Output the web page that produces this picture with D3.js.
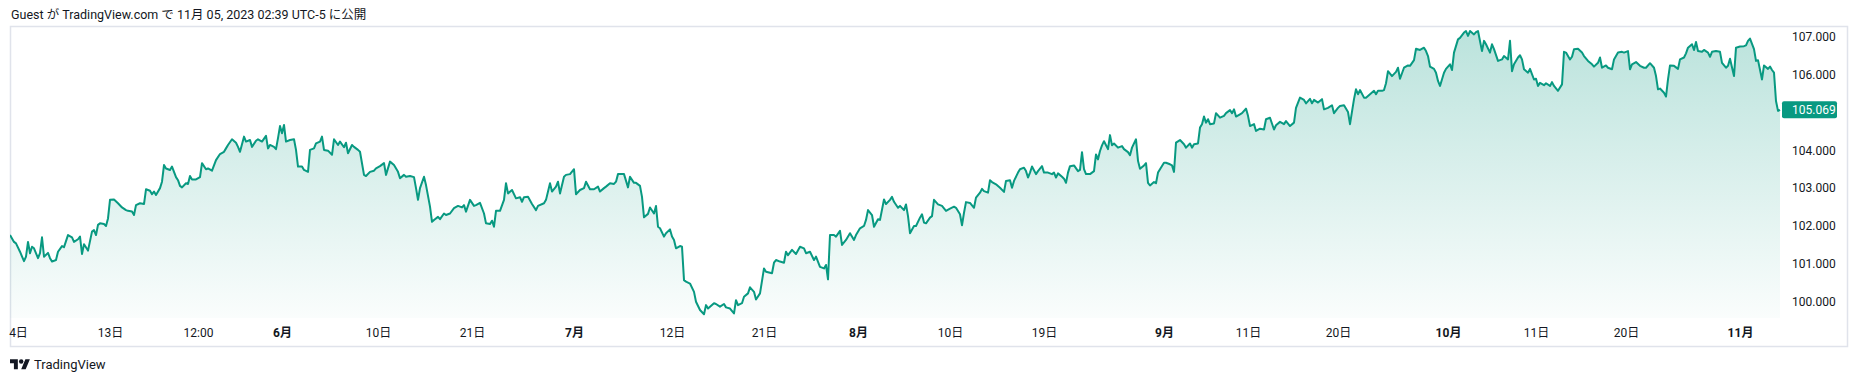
<!DOCTYPE html>
<html>
<head>
<meta charset="utf-8">
<script src="https://cdn.jsdelivr.net/npm/d3@7"></script>
<style>
  html, body { margin: 0; padding: 0; background: #ffffff; }
  svg { display: block; }
  text { font-family: Roboto, "Noto Sans CJK JP", "Noto Sans", sans-serif; }
</style>
</head>
<body>
<svg id="chart" width="1858" height="382"></svg>
<script>
// ---- data (bar index on the time scale, close value) ----
const bars = [0,2,3,5,7,8,9,10,11,12,14,15,16,17,19,20,21,23,24,26,27,29,31,32,34,35,36,37,39,41,42,43,44,45,47,48,49,50,52,54,56,58,59,61,62,63,65,67,68,70,71,72,73,75,76,77,78,80,81,82,83,84,85,86,88,89,90,91,93,95,96,98,99,101,103,105,107,108,109,111,113,114,115,117,118,120,121,123,124,126,128,129,130,132,133,134,135,136,137,138,140,142,143,144,146,147,149,150,152,153,155,156,157,159,161,162,164,165,167,168,169,171,172,174,175,177,178,180,182,183,185,187,188,190,192,194,195,197,198,200,202,203,204,205,207,208,210,211,212,214,215,217,218,220,222,
224,226,227,228,230,232,233,235,237,238,240,241,242,243,245,247,248,249,251,253,255,256,257,259,261,263,264,267,268,270,271,273,274,275,277,278,280,282,283,285,287,288,290,292,294,295,297,298,300,302,303,304,307,309,310,312,313,315,316,317,319,320,322,323,324,325,327,328,330,331,332,333,335,336,337,338,340,342,343,345,347,348,349,352,353,355,357,358,360,362,363,364,366,367,369,370,372,373,375,377,378,381,382,383,385,387,388,389,391,393,395,397,398,400,402,403,405,407,408,409,410,412,413,415,416,418,420,422,423,425,427,428,429,431,432,434,435,437,438,440,441,442,
444,445,447,448,449,450,452,453,455,456,457,458,460,461,462,464,466,468,470,472,473,475,476,477,478,480,482,483,485,486,487,489,490,491,493,495,497,498,500,501,502,504,505,507,508,509,510,511,513,514,516,517,519,521,522,523,524,526,527,528,529,530,532,534,535,536,537,538,540,542,543,544,545,546,547,549,550,551,552,554,556,557,559,560,561,563,564,565,567,568,569,570,572,573,574,575,577,578,580,581,582,583,585,587,588,590,591,592,594,595,596,597,598,599,600,602,603,605,607,608,610,611,612,613,615,616,618,619,620,622,623,625,627,628,630,632,633,635,637,638,640,642,643,645,647,648,650,651,652,654,656,657,659,661,662,
664,665,667,669,670,672,673,674,675,677,678,680,682,683,684,686,687,688,689,691,693,694,695,697,699,700,702,703,705,707,708,709,710,712,713,714,715,717,718,720,721,722,724,725,727,728,729,730,732,733,734,736,737,738,740,741,742,744,746,747,749,750,751,752,754,755,756,757,759,760,762,763,764,765,767,768,770,771,772,774,776,777,778,780,781,782,784,786,787,789,791,792,794,795,796,798,799,801,802,804,806,807,809,810,811,813,815,817,818,820,822,823,824,825,827,828,829,830,832,834,835,837,838,839,841,842,843,844,846,847,849,850,851,853,855,856,858,859,860,862,863,865,867,868,869,870,872,873,874,876,877,879,880,881,882,883,884,885];

const closes = [101.76,101.58,101.54,101.32,101.07,101.19,101.58,101.28,101.45,101.41,101.15,101.28,101.70,101.19,101.29,101.15,101.06,101.10,101.32,101.47,101.44,101.76,101.70,101.58,101.65,101.72,101.26,101.52,101.35,101.85,101.89,101.76,102.03,102.07,102.05,102.00,102.20,102.69,102.70,102.60,102.49,102.42,102.40,102.38,102.29,102.55,102.60,102.58,102.97,102.93,102.84,102.91,102.82,103.00,103.17,103.61,103.52,103.48,103.57,103.43,103.29,103.21,103.06,103.02,103.13,103.11,103.32,103.23,103.23,103.29,103.66,103.50,103.52,103.46,103.74,103.90,103.96,104.05,104.14,104.29,104.20,104.09,103.96,104.36,104.23,104.27,104.09,104.25,104.29,104.23,104.38,104.05,104.14,104.09,104.03,104.32,104.64,104.45,104.67,104.23,104.27,104.29,104.01,103.57,103.57,103.48,103.43,104.01,104.05,104.18,104.23,104.36,104.01,103.99,103.88,104.29,104.14,104.23,104.08,104.20,103.92,104.14,104.09,104.01,103.96,103.35,103.32,103.43,103.46,103.52,103.58,103.66,103.35,103.70,103.61,103.43,103.26,103.35,103.30,103.32,103.29,103.00,102.69,103.00,103.30,103.08,102.51,102.11,102.16,102.24,102.18,102.33,102.29,102.33,102.47,
102.53,102.49,102.55,102.38,102.69,102.53,102.55,102.61,102.33,102.07,102.05,102.14,101.98,102.40,102.40,102.69,103.13,102.86,102.95,102.73,102.76,102.64,102.76,102.77,102.58,102.42,102.53,102.60,102.69,103.13,102.91,103.04,103.17,102.86,103.30,103.35,103.37,103.50,102.84,102.95,103.00,103.17,102.97,102.97,103.04,102.91,103.00,103.04,103.13,103.11,103.17,103.37,103.37,103.02,103.30,103.14,103.14,103.06,102.77,102.23,102.32,102.49,102.33,102.53,101.98,101.94,101.72,101.81,101.91,101.72,101.63,101.41,101.47,101.45,100.57,100.53,100.48,100.26,100.00,99.78,99.67,99.91,99.82,99.96,99.94,99.87,99.94,99.85,99.82,99.69,100.04,99.91,99.96,100.13,100.22,100.38,100.26,100.06,100.22,100.88,100.79,100.75,101.03,101.10,101.06,101.03,101.32,101.23,101.37,101.26,101.45,101.41,101.28,101.32,101.10,101.19,100.92,100.88,100.97,100.59,101.76,101.76,101.72,101.87,101.50,101.63,101.81,101.63,101.76,101.94,102.00,102.16,102.42,102.29,101.98,102.18,102.16,102.70,102.58,102.69,102.77,102.64,
102.48,102.53,102.42,102.57,102.26,101.81,102.00,102.00,102.22,102.31,102.09,102.07,102.22,102.26,102.69,102.57,102.53,102.40,102.46,102.51,102.48,102.31,102.02,102.35,102.63,102.61,102.48,102.75,102.88,102.98,102.92,102.88,103.21,103.16,103.10,103.01,102.90,103.19,103.21,103.01,103.19,103.41,103.50,103.54,103.45,103.28,103.41,103.57,103.37,103.45,103.58,103.41,103.41,103.37,103.41,103.28,103.39,103.30,103.25,103.14,103.41,103.58,103.60,103.45,103.48,103.95,103.50,103.37,103.37,103.45,103.89,103.76,103.98,104.13,104.24,104.03,104.40,104.13,104.18,104.07,104.11,104.03,103.95,103.87,104.07,104.29,103.72,103.51,103.60,103.66,103.14,103.07,103.16,103.13,103.41,103.50,103.67,103.67,103.63,103.60,103.43,104.20,104.27,104.16,104.07,104.18,104.07,104.16,104.18,104.60,104.69,104.89,104.73,104.82,104.69,104.71,104.98,104.86,104.91,104.98,105.06,104.98,105.08,104.89,104.95,104.98,105.10,104.91,104.64,104.69,104.51,104.57,104.55,104.82,104.86,104.55,104.66,104.75,104.69,104.77,104.64,104.73,105.12,105.39,105.33,105.24,105.36,105.24,105.33,105.26,105.35,105.08,105.12,105.19,104.98,
105.12,105.17,105.19,105.01,104.69,105.35,105.61,105.48,105.59,105.39,105.39,105.48,105.57,105.48,105.57,105.57,105.59,105.77,106.09,105.96,106.07,106.18,105.89,106.18,106.24,106.23,106.38,106.68,106.65,106.71,106.62,106.49,106.21,106.15,106.05,105.83,105.70,106.05,106.15,106.27,106.12,106.58,106.93,106.97,107.11,107.15,107.02,107.15,107.06,107.12,107.15,106.62,106.89,106.80,106.58,106.80,106.67,106.36,106.40,106.49,106.40,106.89,106.09,106.27,106.45,106.51,106.40,106.14,106.05,106.15,105.87,105.89,105.70,105.78,105.72,105.77,105.70,105.80,105.70,105.57,105.74,106.60,106.58,106.40,106.47,106.67,106.68,106.58,106.49,106.36,106.27,106.21,106.31,106.45,106.18,106.24,106.18,106.14,106.40,106.58,106.60,106.58,106.62,106.14,106.27,106.33,106.23,106.18,106.18,106.30,106.18,105.96,105.61,105.63,105.52,105.42,105.87,106.24,106.23,106.15,106.40,106.45,106.56,106.71,106.80,106.65,106.86,106.62,106.60,106.65,106.58,106.47,106.60,106.62,106.60,106.31,106.18,106.23,106.42,105.96,106.71,106.74,106.75,106.77,106.89,106.95,106.67,106.36,106.38,105.87,106.24,106.15,106.21,106.12,106.05,105.30,105.04,105.069];

const lastBar = 885;
const yTicks = [100, 101, 102, 103, 104, 105, 106, 107];
const timeTickBars = [4, 50, 94, 136, 184, 231, 282, 331, 377, 424, 470, 517, 577, 619, 664, 719, 763, 808, 865];
const timeTickLabels = ["4日", "13日", "12:00", "6月", "10日", "21日", "7月", "12日", "21日", "8月", "10日", "19日", "9月", "11日", "20日", "10月", "11日", "20日", "11月"];
const timeTickBold = [false, false, false, true, false, false, true, false, false, true, false, false, true, false, false, true, false, false, true];
const headerText = "Guest が TradingView.com で 11月 05, 2023 02:39 UTC-5 に公開";
const brandText = "TradingView";

// ---- layout ----
const frame = { x: 10, y: 26, w: 1838, h: 320 };
const pane = { left: 10, right: 1780, top: 27, bottom: 318 };
const lineColor = "#089981";
const textColor = "#131722";

const svg = d3.select("#chart");
const data = bars.map((b, i) => ({ b, v: closes[i] }));

const x = d3.scaleLinear().domain([0, lastBar]).range([pane.left, pane.right]);
const y = d3.scaleLinear().domain([100, 107]).range([301.7, 36.7]);

// header
svg.append("text")
  .attr("x", 11).attr("y", 19)
  .attr("font-size", 12.5)
  .attr("fill", textColor)
  .text(headerText);

// frame
svg.append("rect")
  .attr("x", frame.x + 0.5).attr("y", frame.y + 0.5)
  .attr("width", frame.w - 1).attr("height", frame.h)
  .attr("fill", "#ffffff")
  .attr("stroke", "#e0e3eb").attr("stroke-width", 1.5);

// gradient
const defs = svg.append("defs");
const grad = defs.append("linearGradient")
  .attr("id", "areaGrad")
  .attr("gradientUnits", "userSpaceOnUse")
  .attr("x1", 0).attr("x2", 0)
  .attr("y1", pane.top).attr("y2", pane.bottom);
grad.append("stop").attr("offset", "0%").attr("stop-color", lineColor).attr("stop-opacity", 0.28);
grad.append("stop").attr("offset", "100%").attr("stop-color", lineColor).attr("stop-opacity", 0.02);

defs.append("clipPath").attr("id", "paneClip")
  .append("rect")
  .attr("x", pane.left).attr("y", pane.top)
  .attr("width", pane.right - pane.left + 1).attr("height", pane.bottom - pane.top);

const g = svg.append("g").attr("clip-path", "url(#paneClip)");

const area = d3.area()
  .x(d => x(d.b))
  .y0(pane.bottom)
  .y1(d => y(d.v));
const line = d3.line()
  .x(d => x(d.b))
  .y(d => y(d.v));

g.append("path").datum(data)
  .attr("d", area)
  .attr("fill", "url(#areaGrad)");
g.append("path").datum(data)
  .attr("d", line)
  .attr("fill", "none")
  .attr("stroke", lineColor)
  .attr("stroke-width", 2)
  .attr("stroke-linejoin", "round");

// price axis
const yAxis = d3.axisRight(y)
  .tickValues(yTicks)
  .tickFormat(d3.format(".3f"))
  .tickSize(0)
  .tickPadding(12);
const yg = svg.append("g").attr("transform", `translate(${pane.right},0)`).call(yAxis);
yg.select(".domain").remove();
yg.selectAll("text")
  .attr("font-family", "Roboto, sans-serif")
  .attr("font-size", 12)
  .attr("fill", textColor);

// last price label
const lastVal = closes[closes.length - 1];
const ly = y(lastVal);
svg.append("rect")
  .attr("x", pane.right + 2).attr("y", ly - 8.5)
  .attr("width", 55).attr("height", 17)
  .attr("rx", 2)
  .attr("fill", lineColor);
svg.append("text")
  .attr("x", pane.right + 12).attr("y", ly)
  .attr("dy", "0.35em")
  .attr("font-size", 12)
  .attr("fill", "#ffffff")
  .text(d3.format(".3f")(lastVal));

// time axis
const xAxis = d3.axisBottom(x)
  .tickValues(timeTickBars)
  .tickFormat((d, i) => timeTickLabels[i])
  .tickSize(0)
  .tickPadding(10);
const xg = svg.append("g").attr("transform", `translate(0,${pane.bottom})`).call(xAxis);
xg.select(".domain").remove();
xg.selectAll("text")
  .attr("font-family", "Roboto, 'Noto Sans CJK JP', sans-serif")
  .attr("font-size", 12)
  .attr("fill", textColor)
  .attr("font-weight", (d, i) => timeTickBold[i] ? "bold" : "normal");

// brand logo
const logo = svg.append("g").attr("transform", "translate(10,357) scale(0.56)").attr("fill", textColor);
logo.append("path").attr("d", "M14 22H7V11H0V4h14v18zM28 22h-8l7.5-18h8L28 22z");
logo.append("circle").attr("cx", 20).attr("cy", 8).attr("r", 4);
svg.append("text")
  .attr("x", 34).attr("y", 369)
  .attr("font-size", 13)
  .attr("fill", textColor)
  .text(brandText);
</script>
</body>
</html>
